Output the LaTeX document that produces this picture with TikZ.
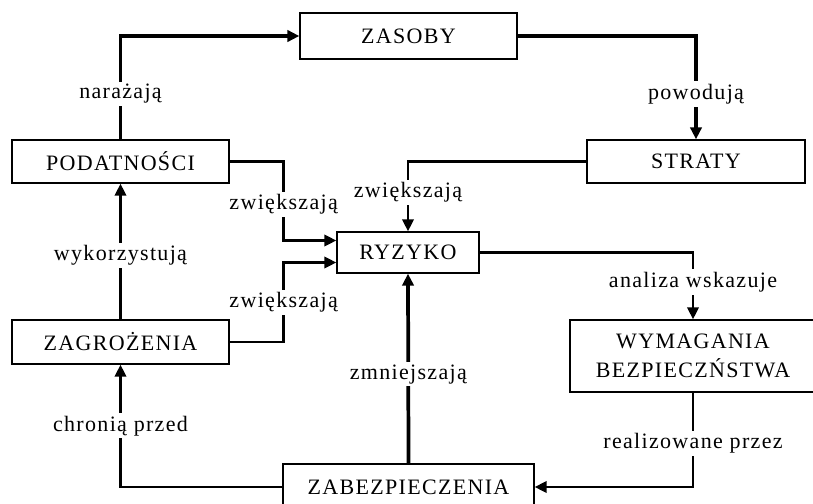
\documentclass[tikz,border=0pt]{standalone}
\usepackage{fontspec}
\setmainfont[LetterSpace=6]{Liberation Serif}
\usetikzlibrary{
	arrows.meta,
	positioning,
}
\tikzset{box node/.style={
	draw,
	line width=1pt,
	inner sep=0mm,
	align=center,
	font=\fontsize{16.5}{22}\selectfont,
}}
\tikzset{label node/.style={
	fill=white,
	inner sep=2pt,
	font=\fontsize{16.5}{22}\selectfont,
}}
\tikzset{link/.style={
	line width=1.9pt,
	-{Triangle[length=9pt,width=8.5pt]},
}}
\tikzset{heavy link/.style={link, line width=2.8pt}}

\begin{document}
\begin{tikzpicture}[x=0.75pt,y=-0.75pt]
\clip (0,0) rectangle (813,503);

\node[box node, minimum width=162.75pt, minimum height=34.5pt] (zasoby) at (408.5,36) {ZASOBY};
\node[box node, minimum width=162.75pt, minimum height=32.25pt] (podatnosci) at (120.5,161.5) {PODATNOŚCI};
\node[box node, minimum width=163.5pt, minimum height=32.25pt] (straty) at (696,161.5) {STRATY};
\node[box node, minimum width=106.5pt, minimum height=30.75pt] (ryzyko) at (408,252.5) {RYZYKO};
\node[box node, minimum width=162.75pt, minimum height=33pt] (zagrozenia) at (120.5,342) {ZAGROŻENIA};
\node[box node, minimum width=184.5pt, minimum height=54pt] (wymagania) at (693,356) {WYMAGANIA\\BEZPIECZŃSTWA};
\node[box node, minimum width=188.25pt, minimum height=34.5pt] (zabezpieczenia) at (408.5,487) {ZABEZPIECZENIA};

\draw[link, line width=2.3pt] (podatnosci.north) |- node[label node, pos=0.22] {narażają} (zasoby.west);
\draw[link, line width=2.3pt] (zasoby.east) -| node[label node, pos=0.78] {powodują} (straty.north);
\draw[link] (straty.west) -| node[label node, pos=0.72] {zwiększają} (ryzyko.north);
\draw[link] (podatnosci.east) -- ++(54,0) |- node[label node, pos=0.27] {zwiększają} ([yshift=9pt]ryzyko.west);
\draw[link] (zagrozenia.east) -- ++(54,0) |- node[label node, pos=0.25] {zwiększają} ([yshift=-7.5pt]ryzyko.west);
\draw[link] (zagrozenia.north) -- node[label node, pos=0.47] {wykorzystują} (podatnosci.south);
\draw[heavy link] (zabezpieczenia.north) -- node[label node, pos=0.47] {zmniejszają} (ryzyko.south);
\draw[link] (zabezpieczenia.west) -| node[label node, pos=0.75] {chronią przed} (zagrozenia.south);
\draw[link] (ryzyko.east) -| node[label node, pos=0.72] {analiza wskazuje} (wymagania.north);
\draw[link] (wymagania.south) |- node[label node, pos=0.27] {realizowane przez} (zabezpieczenia.east);

\end{tikzpicture}
\end{document}
